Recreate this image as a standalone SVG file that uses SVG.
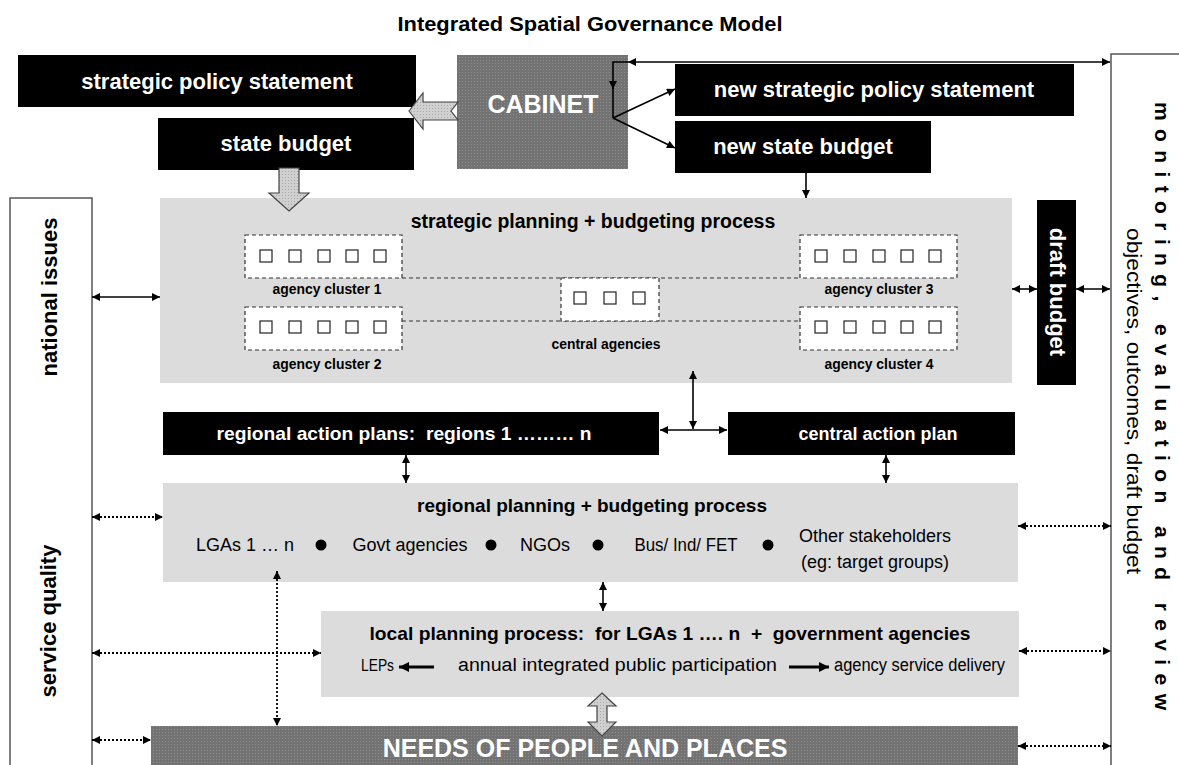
<svg xmlns="http://www.w3.org/2000/svg" width="1179" height="765" viewBox="0 0 1179 765">
<style>
text{font-family:"Liberation Sans",Arial,sans-serif;fill:#000}
.b{font-weight:bold}
.w{fill:#fff}
.pre{white-space:pre}
.blk{fill:#000}
.proc{fill:#dcdcdc}
.frame{fill:#fff;stroke:#555;stroke-width:1.5}
.dash{fill:#fff;stroke:#333;stroke-width:1.2;stroke-dasharray:4 3}
.dline{fill:none;stroke:#333;stroke-width:1.2;stroke-dasharray:4 3}
.sq{fill:#fff;stroke:#222;stroke-width:1.2}
.c{fill:none;stroke:#000;stroke-width:1.6}
.dot{fill:none;stroke:#000;stroke-width:1.8;stroke-dasharray:2 2}
.thick{fill:none;stroke:#000;stroke-width:3}
.hollow{fill:url(#lt);stroke:#444;stroke-width:1.2}
</style>
<defs>
<pattern id="dk" width="3" height="3" patternUnits="userSpaceOnUse"><rect width="3" height="3" fill="#737373"/><rect width="1" height="1" fill="#8e8e8e"/></pattern>
<pattern id="lt" width="3" height="3" patternUnits="userSpaceOnUse"><rect width="3" height="3" fill="#d0d0d0"/><rect width="1" height="1" fill="#a8a8a8"/></pattern>
<marker id="ah" viewBox="0 0 10 10" refX="10" refY="5" markerWidth="9" markerHeight="8" markerUnits="userSpaceOnUse" orient="auto-start-reverse"><path d="M0,0 L10,5 L0,10 z" fill="#000"/></marker>
<marker id="ahb" viewBox="0 0 10 10" refX="10" refY="5" markerWidth="11" markerHeight="10" markerUnits="userSpaceOnUse" orient="auto-start-reverse"><path d="M0,0 L10,5 L0,10 z" fill="#000"/></marker>
</defs>
<rect width="1179" height="765" fill="#fff"/>

<text id="title" class="b" x="590" y="31" font-size="21" text-anchor="middle" textLength="385" lengthAdjust="spacingAndGlyphs">Integrated Spatial Governance Model</text>

<g id="monitor">
<rect class="frame" x="1111" y="54" width="80" height="730"/>
<text class="b pre" font-size="21" transform="translate(1155,102) rotate(90)" textLength="608" lengthAdjust="spacing">m o n i t o r i n g ,   e v a l u a t i o n   a n d   r e v i e w</text>
<text font-size="21" transform="translate(1127,228) rotate(90)" textLength="346" lengthAdjust="spacingAndGlyphs">objectives, outcomes, draft budget</text>
</g>

<g id="leftcol">
<rect class="frame" x="10" y="198" width="82" height="590"/>
<text class="b" font-size="22" text-anchor="middle" transform="translate(57,297) rotate(-90)">national issues</text>
<text class="b" font-size="22" text-anchor="middle" transform="translate(56,621) rotate(-90)">service quality</text>
</g>

<g id="sps">
<rect class="blk" x="18" y="55" width="398" height="52"/>
<text class="b w" x="217" y="89" font-size="22" text-anchor="middle">strategic policy statement</text>
</g>
<g id="sb">
<rect class="blk" x="158" y="118" width="256" height="52"/>
<text class="b w" x="286" y="151" font-size="22" text-anchor="middle">state budget</text>
</g>
<g id="cabinet">
<rect x="457" y="55" width="171" height="114" fill="url(#dk)"/>
<text class="b w" x="543" y="113" font-size="25" text-anchor="middle">CABINET</text>
</g>
<g id="nsps">
<rect class="blk" x="675" y="64" width="399" height="52"/>
<text class="b w" x="874" y="97" font-size="22" text-anchor="middle">new strategic policy statement</text>
</g>
<g id="nsb">
<rect class="blk" x="675" y="121" width="256" height="52"/>
<text class="b w" x="803" y="154" font-size="22" text-anchor="middle">new state budget</text>
</g>

<g id="strategic">
<rect class="proc" x="160" y="198" width="852" height="185"/>
<text class="b" x="593" y="228" font-size="19.5" text-anchor="middle">strategic planning + budgeting process</text>
<path class="dline" d="M402,278 H800 M402,321 H800"/>
<g id="cluster1">
<rect class="dash" x="245" y="235" width="157" height="43"/>
<rect class="sq" x="260" y="250" width="12" height="12"/><rect class="sq" x="289" y="250" width="12" height="12"/><rect class="sq" x="318" y="250" width="12" height="12"/><rect class="sq" x="346" y="250" width="12" height="12"/><rect class="sq" x="374" y="250" width="12" height="12"/>
<text class="b" x="327" y="294" font-size="15" text-anchor="middle" textLength="109" lengthAdjust="spacingAndGlyphs">agency cluster 1</text>
</g>
<g id="cluster2">
<rect class="dash" x="245" y="307" width="157" height="43"/>
<rect class="sq" x="260" y="321" width="12" height="12"/><rect class="sq" x="289" y="321" width="12" height="12"/><rect class="sq" x="318" y="321" width="12" height="12"/><rect class="sq" x="346" y="321" width="12" height="12"/><rect class="sq" x="374" y="321" width="12" height="12"/>
<text class="b" x="327" y="369" font-size="15" text-anchor="middle" textLength="109" lengthAdjust="spacingAndGlyphs">agency cluster 2</text>
</g>
<g id="central">
<rect class="dash" x="561" y="278" width="98" height="43"/>
<rect class="sq" x="574" y="292" width="12" height="12"/><rect class="sq" x="604" y="292" width="12" height="12"/><rect class="sq" x="633" y="292" width="12" height="12"/>
<text class="b" x="606" y="349" font-size="15" text-anchor="middle" textLength="109" lengthAdjust="spacingAndGlyphs">central agencies</text>
</g>
<g id="cluster3">
<rect class="dash" x="800" y="235" width="157" height="43"/>
<rect class="sq" x="815" y="250" width="12" height="12"/><rect class="sq" x="844" y="250" width="12" height="12"/><rect class="sq" x="873" y="250" width="12" height="12"/><rect class="sq" x="901" y="250" width="12" height="12"/><rect class="sq" x="929" y="250" width="12" height="12"/>
<text class="b" x="879" y="294" font-size="15" text-anchor="middle" textLength="109" lengthAdjust="spacingAndGlyphs">agency cluster 3</text>
</g>
<g id="cluster4">
<rect class="dash" x="800" y="307" width="157" height="43"/>
<rect class="sq" x="815" y="321" width="12" height="12"/><rect class="sq" x="844" y="321" width="12" height="12"/><rect class="sq" x="873" y="321" width="12" height="12"/><rect class="sq" x="901" y="321" width="12" height="12"/><rect class="sq" x="929" y="321" width="12" height="12"/>
<text class="b" x="879" y="369" font-size="15" text-anchor="middle" textLength="109" lengthAdjust="spacingAndGlyphs">agency cluster 4</text>
</g>
</g>

<g id="draft">
<rect class="blk" x="1037" y="200" width="39" height="185"/>
<text class="b w" font-size="22" text-anchor="middle" transform="translate(1050,292) rotate(90)">draft budget</text>
</g>

<g id="rap">
<rect class="blk" x="163" y="412" width="496" height="43"/>
<text class="b w pre" x="404" y="440" font-size="19" text-anchor="middle" textLength="375" lengthAdjust="spacingAndGlyphs">regional action plans:  regions 1 ……… n</text>
</g>
<g id="cap">
<rect class="blk" x="728" y="412" width="287" height="43"/>
<text class="b w" x="878" y="440" font-size="18" text-anchor="middle">central action plan</text>
</g>

<g id="regional">
<rect class="proc" x="163" y="483" width="855" height="99"/>
<text class="b" x="592" y="512" font-size="19" text-anchor="middle">regional planning + budgeting process</text>
<text x="245" y="551" font-size="18" text-anchor="middle">LGAs 1 … n</text>
<circle cx="321" cy="545" r="5.5"/>
<text x="410" y="551" font-size="18" text-anchor="middle">Govt agencies</text>
<circle cx="491" cy="545" r="5.5"/>
<text x="545" y="551" font-size="18" text-anchor="middle">NGOs</text>
<circle cx="598" cy="545" r="5.5"/>
<text x="686" y="551" font-size="18" text-anchor="middle" textLength="103" lengthAdjust="spacingAndGlyphs">Bus/ Ind/ FET</text>
<circle cx="768" cy="545" r="5.5"/>
<text x="875" y="542" font-size="18" text-anchor="middle">Other stakeholders</text>
<text x="875" y="568" font-size="18" text-anchor="middle">(eg: target groups)</text>
</g>

<g id="local">
<rect class="proc" x="321" y="611" width="698" height="86"/>
<text class="b pre" x="670" y="640" font-size="19" text-anchor="middle" textLength="601" lengthAdjust="spacingAndGlyphs">local planning process:  for LGAs 1 …. n  +  government agencies</text>
<text x="394" y="671" font-size="17" text-anchor="end" textLength="33" lengthAdjust="spacingAndGlyphs">LEPs</text>
<text x="458" y="671" font-size="18" textLength="319" lengthAdjust="spacingAndGlyphs">annual integrated public participation</text>
<text x="834" y="671" font-size="18" textLength="171" lengthAdjust="spacingAndGlyphs">agency service delivery</text>
</g>

<g id="needs">
<rect x="151" y="726" width="867" height="60" fill="url(#dk)"/>
<text class="b w" x="585" y="757" font-size="25" text-anchor="middle">NEEDS OF PEOPLE AND PLACES</text>
</g>

<g id="connectors">
<polygon class="hollow" points="409,111 423,93 423,102 458,102 451,111 458,120 423,120 423,129"/>
<polygon class="hollow" points="279,168 299,168 299,193 309,193 289,211 269,193 279,193"/>
<polygon class="hollow" points="602,693 616,706 607,706 607,722 616,722 602,736 588,722 597,722 597,706 588,706"/>
<line class="c" x1="628" y1="62" x2="1110" y2="62" marker-start="url(#ah)" marker-end="url(#ah)"/>
<path class="c" d="M628,62 H613 V89" marker-end="url(#ah)"/>
<path class="c" d="M613,88 V118"/>
<line class="c" x1="613" y1="118" x2="675" y2="89" marker-end="url(#ah)"/>
<line class="c" x1="613" y1="118" x2="675" y2="148" marker-end="url(#ah)"/>
<line class="c" x1="806" y1="173" x2="806" y2="198" marker-end="url(#ah)"/>
<line class="c" x1="92" y1="297" x2="160" y2="297" marker-start="url(#ah)" marker-end="url(#ah)"/>
<line class="c" x1="1012" y1="289" x2="1037" y2="289" marker-start="url(#ah)" marker-end="url(#ah)"/>
<line class="c" x1="1076" y1="289" x2="1110" y2="289" marker-start="url(#ah)" marker-end="url(#ah)"/>
<line class="c" x1="693" y1="371" x2="693" y2="429" marker-start="url(#ah)" marker-end="url(#ah)"/>
<line class="c" x1="660" y1="430" x2="727" y2="430" marker-start="url(#ah)" marker-end="url(#ah)"/>
<line class="c" x1="406" y1="455" x2="406" y2="483" marker-start="url(#ah)" marker-end="url(#ah)"/>
<line class="c" x1="886" y1="455" x2="886" y2="483" marker-start="url(#ah)" marker-end="url(#ah)"/>
<line class="c" x1="603" y1="582" x2="603" y2="611" marker-start="url(#ah)" marker-end="url(#ah)"/>
<line class="dot" x1="92" y1="517" x2="163" y2="517" marker-start="url(#ah)" marker-end="url(#ah)"/>
<line class="dot" x1="92" y1="653" x2="321" y2="653" marker-start="url(#ah)" marker-end="url(#ah)"/>
<line class="dot" x1="92" y1="740" x2="151" y2="740" marker-start="url(#ah)" marker-end="url(#ah)"/>
<line class="dot" x1="277" y1="571" x2="277" y2="726" marker-start="url(#ah)" marker-end="url(#ah)"/>
<line class="dot" x1="1018" y1="526" x2="1111" y2="526" marker-start="url(#ah)" marker-end="url(#ah)"/>
<line class="dot" x1="1019" y1="651" x2="1111" y2="651" marker-start="url(#ah)" marker-end="url(#ah)"/>
<line class="dot" x1="1018" y1="746" x2="1111" y2="746" marker-start="url(#ah)" marker-end="url(#ah)"/>
<line class="thick" x1="434" y1="667" x2="399" y2="667" marker-end="url(#ahb)"/>
<line class="thick" x1="789" y1="667" x2="829" y2="667" marker-end="url(#ahb)"/>
</g>
</svg>
